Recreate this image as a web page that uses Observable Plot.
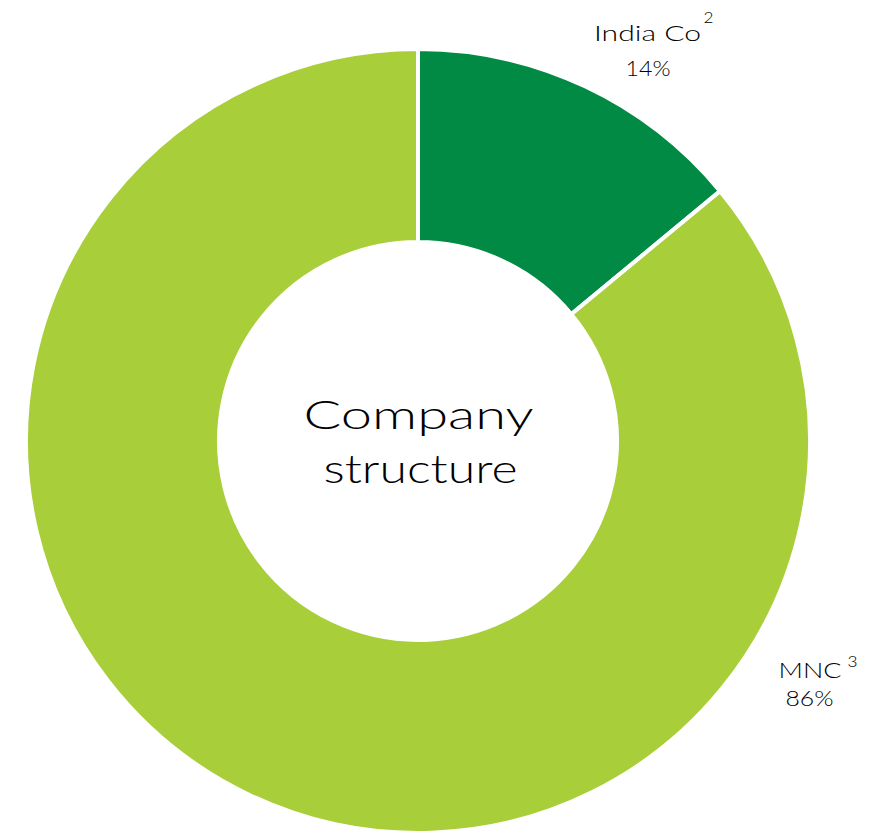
<!DOCTYPE html>
<html><head><meta charset="utf-8">
<script src="https://cdn.jsdelivr.net/npm/d3@7"></script>
<script src="https://cdn.jsdelivr.net/npm/@observablehq/plot@0.6"></script>
<style>body{margin:0;background:#fff}#chart svg{display:block}</style>
</head><body><div id="chart"></div>
<script>
// ---- data ----
const categories = ["India Co", "MNC"];
const shares = [14, 86];
const footnotes = ["2", "3"];
const centerLines = ["Company", "structure"];
const sliceColors = ["#008A43", "#A8CE3A"];

// ---- layout (pixels) ----
const W = 871, H = 836, CX = 418, CY = 441, R = 392, RIN = 199;
const ux = px => (px - CX) / R;
const uy = py => (CY - py) / R;

const data = categories.map((c, i) => ({category: c, value: shares[i], note: footnotes[i], color: sliceColors[i]}));
const arcs = d3.pie().sort(null).value(d => d.value)(data);

// label layout: [text, centerX, baseline, fontSize, targetWidth]
const labelLayout = [
  [categories[0], 647, 40, 21, 107],
  [shares[0] + "%", 647.5, 75, 21, 45],
  [footnotes[0], 708, 22, 16, 10],
  [categories[1], 809.5, 677, 22, 63],
  [footnotes[1], 852, 666, 16, 10],
  [shares[1] + "%", 809, 705, 22, 48],
  [centerLines[0], 418, 428, 40, 230],
  [centerLines[1], 420, 482, 40, 194]
];

function donut(index, scales) {
  const x = scales.x, y = scales.y;
  const cx = x(0), cy = y(0);
  const outer = x(1) - x(0);
  const inner = outer * RIN / R;
  const arc = d3.arc().innerRadius(inner).outerRadius(outer);
  const g = d3.create("svg:g").attr("transform", `translate(${cx},${cy})`);
  g.selectAll("path").data(arcs).join("path")
    .attr("d", arc)
    .attr("fill", d => d.data.color)
    .attr("stroke", "#fff")
    .attr("stroke-width", 4)
    .attr("stroke-linejoin", "miter");
  return g.node();
}

const textMarks = labelLayout.map(([t, px, py, fs]) =>
  Plot.text([{t, x: ux(px), y: uy(py)}], {
    x: "x", y: "y", text: "t",
    fontSize: fs, textAnchor: "middle", lineAnchor: "middle",
    dy: -0.32 * fs, fill: "#000",
    fontWeight: 300,
    fontFamily: "Lato, 'Open Sans', sans-serif"
  })
);

const chart = Plot.plot({
  width: W, height: H,
  margin: 0,
  x: {domain: [-1, 1], range: [CX - R, CX + R], axis: null},
  y: {domain: [-1, 1], range: [CY + R, CY - R], axis: null},
  style: {background: "#fff", overflow: "visible"},
  marks: [donut, ...textMarks]
});
document.getElementById("chart").append(chart);

// fit widths to match original font metrics
const texts = chart.querySelectorAll("text");
texts.forEach(el => {
  const s = el.textContent;
  const lay = labelLayout.find(l => l[0] === s);
  if (lay && lay[4]) {
    el.setAttribute("textLength", lay[4]);
    el.setAttribute("lengthAdjust", "spacingAndGlyphs");
  }
});
</script>
</body></html>
